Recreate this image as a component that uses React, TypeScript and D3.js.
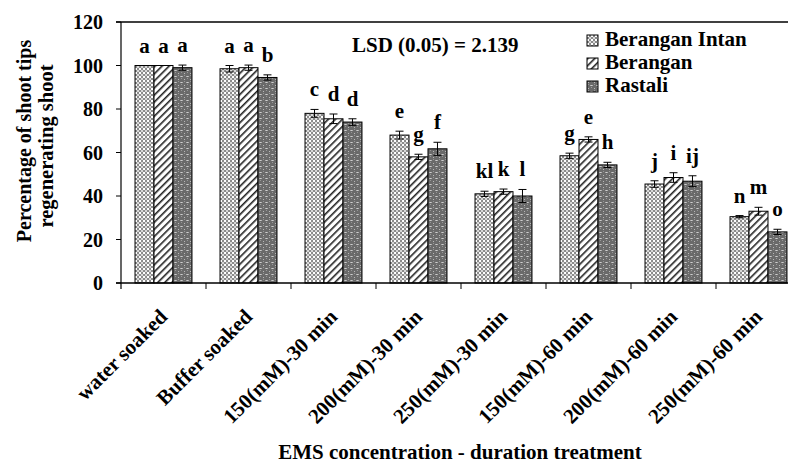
import React from "react";
import * as d3 from "d3";

const categories = [
  "water soaked",
  "Buffer soaked",
  "150(mM)-30 min",
  "200(mM)-30 min",
  "250(mM)-30 min",
  "150(mM)-60 min",
  "200(mM)-60 min",
  "250(mM)-60 min",
];
const seriesNames = ["Berangan Intan", "Berangan", "Rastali"];
const beranganIntan = [100, 98.5, 78, 68, 41, 58.5, 45.5, 30.5];
const berangan = [100, 99, 75.5, 58, 42, 66, 48.5, 33];
const rastali = [99, 94.5, 74, 61.7, 40, 54.3, 46.8, 23.5];
const errIntan = [0, 1.5, 1.8, 1.8, 1.2, 1.2, 1.5, 0.5];
const errBerangan = [0, 1.2, 2.2, 1.2, 1.2, 1.2, 2.2, 1.8];
const errRastali = [1.2, 1.2, 1.5, 3, 3, 1.2, 2.5, 1.2];
const lettersIntan = ["a", "a", "c", "e", "kl", "g", "j", "n"];
const lettersBerangan = ["a", "a", "d", "g", "k", "e", "i", "m"];
const lettersRastali = ["a", "b", "d", "f", "l", "h", "ij", "o"];
const yTicks = [0, 20, 40, 60, 80, 100, 120];

const W = 788;
const H = 466;
const FONT = '"Liberation Serif", "DejaVu Serif", serif';

export default function App() {
  const y = d3.scaleLinear().domain([0, 120]).range([283, 22]);
  const x0 = d3
    .scaleBand<string>()
    .domain(categories)
    .range([121, 801])
    .paddingInner(0.33)
    .paddingOuter(0.165);
  const x1 = d3
    .scaleBand<string>()
    .domain(seriesNames)
    .range([0, x0.bandwidth()]);

  const values = [beranganIntan, berangan, rastali];
  const errs = [errIntan, errBerangan, errRastali];
  const letters = [lettersIntan, lettersBerangan, lettersRastali];
  const fills = ["url(#patIntan)", "url(#patBerangan)", "url(#patRastali)"];

  const step = x0.step();
  const txt = { fontFamily: FONT, fontWeight: 700 } as React.CSSProperties;

  return (
    <svg
      width={W}
      height={H}
      style={{ position: "absolute", left: 0, top: 0, background: "#fff", fontFamily: FONT, fontWeight: 700 }}
    >
      <defs>
        <pattern id="patIntan" width="4" height="4" patternUnits="userSpaceOnUse">
          <rect width="4" height="4" fill="#8a8a8a" />
          <rect x="0" y="0" width="2" height="2" fill="#fff" />
          <rect x="2" y="2" width="2" height="2" fill="#d8d8d8" />
        </pattern>
        <pattern
          id="patBerangan"
          width="5"
          height="5"
          patternUnits="userSpaceOnUse"
          patternTransform="rotate(45)"
        >
          <rect width="5" height="5" fill="#fff" />
          <rect x="0" y="0" width="1.6" height="5" fill="#222" />
        </pattern>
        <pattern id="patRastali" width="6" height="6" patternUnits="userSpaceOnUse">
          <rect width="6" height="6" fill="#6a6a6a" />
          <rect x="1" y="1" width="1" height="1" fill="#bbb" />
          <rect x="4" y="4" width="1" height="1" fill="#bbb" />
          <rect x="4" y="0" width="1" height="1" fill="#999" />
          <rect x="1" y="3" width="1" height="1" fill="#999" />
          <rect x="3" y="4" width="3" height="1" fill="#ddd" opacity="0.6" />
        </pattern>
      </defs>

      {/* top frame line */}
      <line x1={116} x2={W} y1={y(120)} y2={y(120)} stroke="#000" strokeWidth={1.5} />

      {/* bars, error bars, letters */}
      {categories.map((c, i) => (
        <g key={c} transform={`translate(${x0(c)},0)`}>
          {seriesNames.map((s, j) => {
            const v = values[j][i];
            const e = errs[j][i];
            const bx = x1(s)!;
            const bw = x1.bandwidth();
            const cx = bx + bw / 2;
            return (
              <g key={s}>
                <rect
                  x={bx}
                  y={y(v)}
                  width={bw}
                  height={y(0) - y(v)}
                  fill={fills[j]}
                  stroke="#000"
                  strokeWidth={1}
                />
                {e > 0 && (
                  <g stroke="#000" strokeWidth={1}>
                    <line x1={cx} x2={cx} y1={y(v + e)} y2={y(v - e)} />
                    <line x1={cx - 4} x2={cx + 4} y1={y(v + e)} y2={y(v + e)} />
                    <line x1={cx - 4} x2={cx + 4} y1={y(v - e)} y2={y(v - e)} />
                  </g>
                )}
                <text x={cx} y={y(v + e) - 13} textAnchor="middle" fontSize={21} fill="#000" style={txt}>
                  {letters[j][i]}
                </text>
              </g>
            );
          })}
        </g>
      ))}

      {/* x axis */}
      <line x1={116} x2={W} y1={y(0)} y2={y(0)} stroke="#000" strokeWidth={1.5} />
      {categories.map((c, i) => {
        const tx = 121 + step * (i + 1);
        return <line key={"t" + c} x1={tx} x2={tx} y1={y(0)} y2={y(0) + 6} stroke="#000" strokeWidth={1} />;
      })}
      {categories.map((c) => {
        const cx = x0(c)! + x0.bandwidth() / 2;
        return (
          <text
            key={"l" + c}
            transform={`translate(${cx + 5},${y(0) + 35}) rotate(-45)`}
            textAnchor="end"
            fontSize={21}
            fill="#000"
            style={txt}
          >
            {c}
          </text>
        );
      })}

      {/* y axis */}
      <line x1={121} x2={121} y1={y(120)} y2={y(0) + 6} stroke="#000" strokeWidth={1.2} />
      {yTicks.map((t) => (
        <g key={t}>
          <line x1={116} x2={121} y1={y(t)} y2={y(t)} stroke="#000" strokeWidth={1} />
          <text x={103} y={y(t)} dy="0.35em" textAnchor="end" fontSize={20} fill="#000" style={txt}>
            {t}
          </text>
        </g>
      ))}

      {/* y title */}
      <text transform="translate(31,141) rotate(-90)" textAnchor="middle" fontSize={20} fill="#000" style={txt}>
        Percentage of shoot tips
      </text>
      <text transform="translate(53,146) rotate(-90)" textAnchor="middle" fontSize={20.5} fill="#000" style={txt}>
        regenerating shoot
      </text>

      {/* x title */}
      <text x={460} y={459} textAnchor="middle" fontSize={21} fill="#000" style={txt}>
        EMS concentration - duration treatment
      </text>

      {/* LSD */}
      <text x={352} y={52} fontSize={21} fill="#000" style={txt}>
        LSD (0.05) = 2.139
      </text>

      {/* legend */}
      {seriesNames.map((s, j) => (
        <g key={s} transform={`translate(587,${35 + j * 23})`}>
          <rect x={0} y={0} width={11} height={11} fill={fills[j]} stroke="#000" strokeWidth={1} />
          <text x={18} y={11} fontSize={21} fill="#000" style={txt}>
            {s}
          </text>
        </g>
      ))}
    </svg>
  );
}
